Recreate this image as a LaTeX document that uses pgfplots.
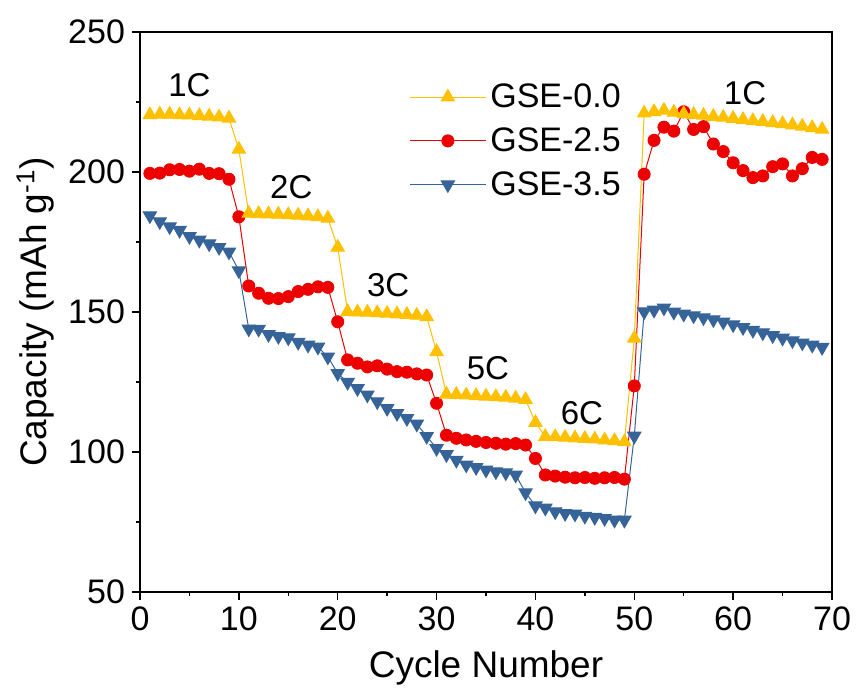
\documentclass[border=0pt]{standalone}
\usepackage{fontspec}
\setmainfont{Liberation Sans}
\usepackage{pgfplots}
\pgfplotsset{compat=1.18}
\usepackage{pgfplotstable}

\definecolor{cyel}{RGB}{255,192,0}
\definecolor{cred}{RGB}{236,0,0}
\definecolor{cblue}{RGB}{54,100,152}

\pgfplotstableread{
x y
1 220.4
2 220.6
3 220.6
4 220.4
5 220.3
6 220.1
7 219.9
8 219.6
9 219.2
10 208.1
11 185.2
12 185.1
13 185.0
14 184.9
15 184.7
16 184.5
17 184.3
18 184.0
19 183.5
20 173.1
21 150.1
22 150.0
23 149.9
24 149.7
25 149.5
26 149.3
27 149.1
28 148.8
29 148.3
30 135.8
31 120.6
32 120.5
33 120.3
34 120.1
35 119.9
36 119.7
37 119.5
38 119.2
39 118.7
40 110.5
41 105.5
42 105.4
43 105.2
44 105.0
45 104.8
46 104.6
47 104.3
48 104.0
49 103.6
50 140.6
51 221.0
52 221.5
53 222.0
54 221.3
55 220.8
56 220.5
57 220.2
58 219.8
59 219.5
60 219.1
61 218.7
62 218.3
63 218.0
64 217.6
65 217.2
66 216.8
67 216.3
68 215.8
69 215.2
}\gsezero

\pgfplotstableread{
x y
1 199.5
2 199.6
3 200.8
4 200.9
5 200.3
6 201.0
7 199.5
8 199.4
9 197.4
10 184.0
11 159.3
12 156.7
13 154.9
14 154.8
15 155.5
16 157.3
17 158.1
18 159.0
19 158.8
20 146.5
21 132.9
22 131.7
23 130.4
24 130.8
25 129.6
26 128.7
27 128.5
28 127.9
29 127.5
30 117.4
31 106.0
32 104.9
33 104.3
34 103.8
35 103.4
36 103.1
37 102.8
38 103.0
39 102.5
40 97.7
41 91.8
42 91.4
43 91.0
44 90.8
45 90.9
46 90.6
47 90.8
48 90.9
49 90.3
50 123.6
51 199.2
52 211.3
53 216.0
54 214.6
55 221.5
56 215.2
57 216.2
58 210.0
59 207.3
60 203.3
61 200.5
62 198.0
63 198.6
64 201.9
65 202.9
66 198.6
67 201.2
68 205.2
69 204.5
}\gsetwo

\pgfplotstableread{
x y
1 184.4
2 182.3
3 180.5
4 179.2
5 177.0
6 175.7
7 174.4
8 173.1
9 171.5
10 164.8
11 144.0
12 143.9
13 142.0
14 141.3
15 140.8
16 139.2
17 138.2
18 137.5
19 134.0
20 128.1
21 124.9
22 122.7
23 120.4
24 118.0
25 115.6
26 113.8
27 112.0
28 110.0
29 105.6
30 101.3
31 99.1
32 97.1
33 95.4
34 94.5
35 93.6
36 93.0
37 92.6
38 91.8
39 85.5
40 80.8
41 80.0
42 78.7
43 78.1
44 77.9
45 77.1
46 76.7
47 76.3
48 75.7
49 75.7
50 105.7
51 150.1
52 150.7
53 151.5
54 150.0
55 149.3
56 148.7
57 148.0
58 147.3
59 146.5
60 145.5
61 144.5
62 143.5
63 142.6
64 141.6
65 140.7
66 139.8
67 139.0
68 138.2
69 137.4
}\gsethree

\begin{document}
\begin{tikzpicture}
\begin{axis}[
    scale only axis,
    width=346pt, height=280pt,
    xmin=0, xmax=70, ymin=50, ymax=250,
    xtick={0,10,...,70}, ytick={50,100,...,250},
    minor tick num=1,
    tick align=outside,
    xtick pos=left, ytick pos=left,
    major tick length=4pt, minor tick length=2pt,
    axis line style={line width=0.8pt},
    every tick/.style={black, line width=0.7pt},
    /pgf/number format/assume math mode=true,
    ticklabel style={font=\fontsize{17}{19}\selectfont},
    xlabel={Cycle Number},
    ylabel={Capacity (mAh g\textsuperscript{-1})},
    label style={font=\fontsize{18.5}{20}\selectfont},
    xlabel style={yshift=-3pt},
    legend style={draw=none, fill=none, at={(axis cs:26.6,234.5)}, anchor=north west,
        font=\fontsize{17}{19}\selectfont, row sep=4.5pt,
        /tikz/every even column/.append style={column sep=0pt}},
    legend cell align=left,
    reverse legend,
    legend image code/.code={\draw[mark repeat=2,mark phase=2,#1] plot coordinates {(0pt,0pt) (19pt,0pt) (38pt,0pt)};},
]
\addplot[color=cblue, line width=0.5pt, mark=triangle*, mark size=3.8pt,
    mark options={rotate=180, fill=cblue, draw=cblue}] table {\gsethree};
\addlegendentry{GSE-3.5}
\addplot[color=cred, line width=0.5pt, mark=*, mark size=3pt,
    mark options={fill=cred, draw=cred}] table {\gsetwo};
\addlegendentry{GSE-2.5}
\addplot[color=cyel, line width=0.5pt, mark=triangle*, mark size=3.8pt,
    mark options={fill=cyel, draw=cyel}] table {\gsezero};
\addlegendentry{GSE-0.0}

\begin{scope}[every node/.style={font=\fontsize{16.5}{18}\selectfont}]
\node at (axis cs:5,231) {1C};
\node at (axis cs:15.3,194.6) {2C};
\node at (axis cs:25.1,159.6) {3C};
\node at (axis cs:35.2,130) {5C};
\node at (axis cs:44.7,114) {6C};
\node at (axis cs:61.2,228) {1C};
\end{scope}

\coordinate (ll) at (rel axis cs:0,0);
\coordinate (ur) at (rel axis cs:1,1);
\end{axis}
\pgfresetboundingbox
\path[use as bounding box] ([shift={(-70pt,-49.5pt)}]ll) rectangle ([shift={(13.5pt,16pt)}]ur);
\end{tikzpicture}
\end{document}
